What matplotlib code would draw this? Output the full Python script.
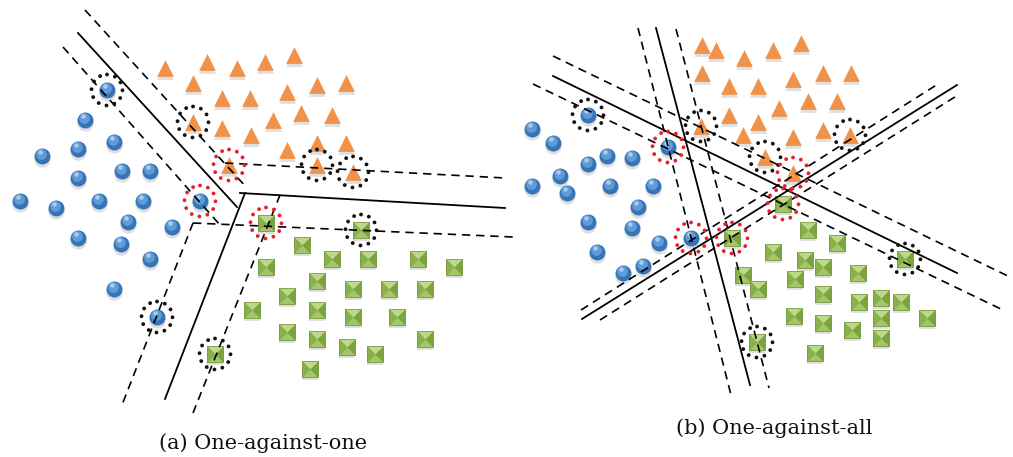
import matplotlib.pyplot as plt
from matplotlib.patches import Circle

# canvas in pixel units, y grows downward
W, H = 1013, 457

# ---- (a) one-against-one ----
a_blue_x = [107, 85, 114, 78, 42, 78, 122, 150, 20, 56, 99, 143, 200, 128, 172, 78, 121, 150, 114, 157]
a_blue_y = [90, 120, 142, 149, 156, 178, 171, 171, 201, 208, 201, 201, 201, 222, 227, 238, 244, 259, 289, 317]

a_orange_x = [165, 207, 237, 265, 294, 193, 222, 250, 287, 317, 346, 193, 222, 251, 273, 301, 332,
              229, 287, 317, 346, 317, 353]
a_orange_y = [68, 62, 68, 62, 55, 83, 98, 98, 92, 85, 83, 122, 128, 135, 120, 113, 115,
              165, 150, 143, 143, 165, 172]

a_green_x = [266, 361, 302, 332, 368, 418, 454, 266, 317, 353, 389, 425, 287, 252, 317, 353, 397,
             287, 317, 347, 375, 425, 215, 310]
a_green_y = [223, 230, 245, 259, 259, 259, 267, 267, 281, 289, 289, 289, 296, 310, 310, 317, 317,
             332, 339, 347, 354, 339, 354, 369]

a_solid = [[(78, 33), (237, 207)],
           [(165, 399), (245, 193)],
           [(240, 193), (505, 208)]]
a_dashed = [[(85, 10), (247, 188)],
            [(225, 163), (505, 178)],
            [(63, 47), (220, 225)],
            [(193, 223), (122, 405)],
            [(193, 223), (513, 237)],
            [(193, 413), (282, 190)]]

a_sv_black = [(107, 90), (193, 122), (317, 165), (353, 172), (361, 230), (157, 317), (215, 354)]
a_sv_red = [(229, 165), (200, 201), (266, 223)]

# ---- (b) one-against-all ----
b_blue_x = [588, 532, 553, 607, 632, 588, 560, 532, 567, 610, 653, 668, 638, 588, 632,
            659, 597, 643, 623, 691]
b_blue_y = [115, 129, 143, 156, 158, 164, 176, 186, 193, 186, 186, 147, 207, 222, 228,
            243, 252, 266, 273, 238]

b_orange_x = [702, 716, 744, 702, 729, 758, 729, 758, 743, 701, 765, 773, 801, 793, 823, 851,
              779, 808, 837, 793, 823, 850, 793]
b_orange_y = [45, 50, 58, 73, 86, 86, 115, 122, 135, 126, 157, 50, 43, 79, 73, 73,
              108, 101, 101, 137, 130, 135, 173]

b_green_x = [732, 743, 758, 757, 783, 808, 837, 773, 805, 823, 858, 795, 823, 859, 881, 901,
             794, 823, 852, 881, 927, 881, 815, 905]
b_green_y = [238, 275, 289, 342, 204, 230, 243, 252, 260, 267, 273, 279, 294, 302, 298, 302,
             316, 323, 330, 318, 318, 338, 353, 259]

b_solid = [[(553, 76), (957, 273)],
           [(582, 319), (957, 85)],
           [(656, 28), (750, 385)]]
b_dashed = [[(553, 56), (1012, 278)],
            [(533, 84), (1005, 311)],
            [(581, 310), (938, 84)],
            [(600, 320), (958, 95)],
            [(638, 28), (731, 395)],
            [(676, 29), (769, 388)]]

b_sv_black = [(588, 115), (701, 126), (765, 157), (850, 135), (905, 259), (757, 342)]
b_sv_red = [(668, 147), (793, 173), (783, 204), (691, 238), (732, 238)]

captions = ["(a) One-against-one", "(b) One-against-all"]
caption_pos = [(263, 443), (774, 428)]

SIZE = 11.5  # marker size in points (~16 px)
S = SIZE ** 2

# pyramid faces for the square markers
TOP = [(-1, 1), (1, 1), (0, 0)]
BOTTOM = [(-1, -1), (1, -1), (0, 0)]
LEFT = [(-1, -1), (-1, 1), (0, 0)]
RIGHT = [(1, -1), (1, 1), (0, 0)]


def draw_points(ax, bx, by, ox, oy, gx, gy):
    gs = S * 0.92

    # soft shadows under every marker
    sh = dict(color="#8f8f8f", alpha=0.28, linewidths=0, zorder=2)
    ax.scatter(bx, [y + 3 for y in by], s=S * 1.05, marker="o", **sh)
    ax.scatter(ox, [y + 3 for y in oy], s=S * 1.1, marker="^", **sh)
    ax.scatter(gx, [y + 3 for y in gy], s=gs, marker="s", **sh)

    # blue spheres
    ax.scatter(bx, by, s=S, marker="o", color="#3674b5", linewidths=0, zorder=3)
    ax.scatter([x - 1 for x in bx], [y - 2 for y in by], s=S * 0.45, marker="o",
               color="#5f9bd6", linewidths=0, zorder=3)
    ax.scatter([x - 2 for x in bx], [y - 4 for y in by], s=S * 0.08, marker="o",
               color="#a9ccee", linewidths=0, zorder=3)

    # orange cones
    ax.scatter(ox, oy, s=S * 1.1, marker="^", color="#f0924a", linewidths=0, zorder=3)

    # green pyramids
    ax.scatter(gx, gy, s=gs, marker="s", color="#8db452", linewidths=0.6,
               edgecolors="#6f9338", zorder=3)
    ax.scatter(gx, gy, s=gs, marker=TOP, color="#bcd98a", linewidths=0, zorder=3)
    ax.scatter(gx, gy, s=gs, marker=BOTTOM, color="#a3c669", linewidths=0, zorder=3)
    ax.scatter(gx, gy, s=gs, marker=LEFT, color="#88b04b", linewidths=0, zorder=3)
    ax.scatter(gx, gy, s=gs, marker=RIGHT, color="#7ba33f", linewidths=0, zorder=3)


def draw_lines(ax, solid, dashed):
    for seg in solid:
        xs, ys = zip(*seg)
        ax.plot(xs, ys, color="black", lw=1.3, zorder=4)
    for seg in dashed:
        xs, ys = zip(*seg)
        ax.plot(xs, ys, color="black", lw=1.2, dashes=(5, 3.5), zorder=4)


def draw_rings(ax, centers, color):
    for cx, cy in centers:
        ax.add_patch(Circle((cx, cy), 15.5, fill=False, edgecolor=color, lw=2.8,
                            linestyle=(0, (0.01, 2.1)), capstyle="round", zorder=5))


fig = plt.figure(figsize=(W / 100, H / 100), dpi=100)
ax = fig.add_axes([0, 0, 1, 1])
ax.set_xlim(0, W)
ax.set_ylim(H, 0)
ax.axis("off")

draw_points(ax, a_blue_x, a_blue_y, a_orange_x, a_orange_y, a_green_x, a_green_y)
draw_lines(ax, a_solid, a_dashed)
draw_rings(ax, a_sv_black, "#111111")
draw_rings(ax, a_sv_red, "#e3202b")

draw_points(ax, b_blue_x, b_blue_y, b_orange_x, b_orange_y, b_green_x, b_green_y)
draw_lines(ax, b_solid, b_dashed)
draw_rings(ax, b_sv_black, "#111111")
draw_rings(ax, b_sv_red, "#e3202b")

for text, (tx, ty) in zip(captions, caption_pos):
    ax.text(tx, ty, text, ha="center", va="center", fontsize=15,
            family="DejaVu Serif", color="#111111")

fig.savefig("out.png", dpi=100)
